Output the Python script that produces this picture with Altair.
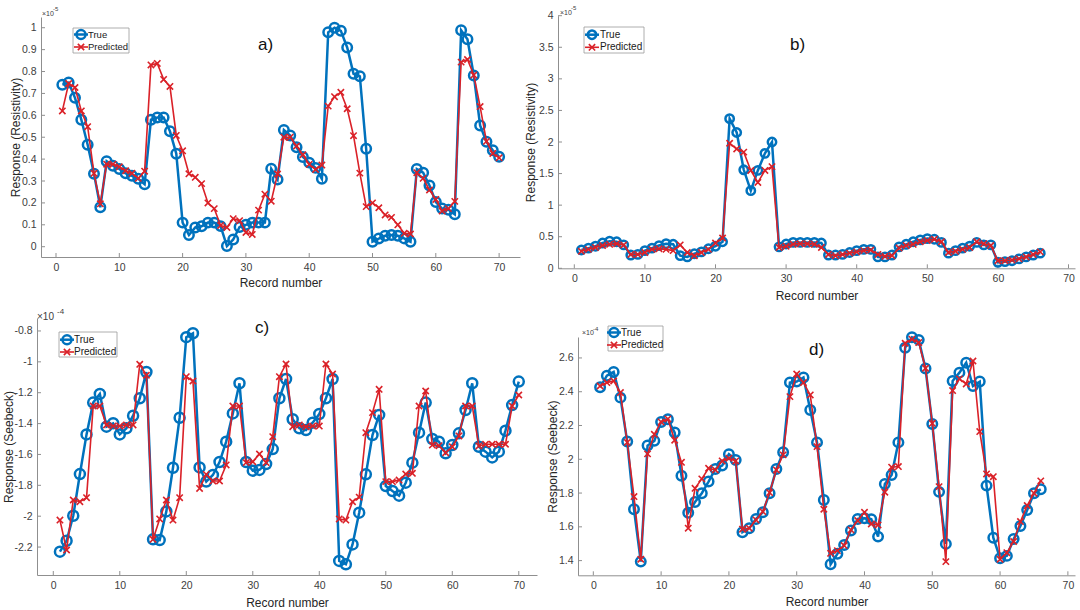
import altair as alt
import pandas as pd

# ---------------- data ----------------
rec_70 = list(range(1, 71))
rec_66 = list(range(1, 67))

true_a = [0.74, 0.75, 0.68, 0.58, 0.466, 0.333, 0.18, 0.39, 0.37, 0.355,
          0.335, 0.324, 0.31, 0.285, 0.58, 0.59, 0.59, 0.527, 0.425, 0.11,
          0.053, 0.088, 0.093, 0.11, 0.11, 0.094, 0.003, 0.033, 0.09, 0.1,
          0.11, 0.11, 0.11, 0.356, 0.307, 0.533, 0.508, 0.454, 0.41, 0.384,
          0.36, 0.31, 0.979, 1.0, 0.986, 0.91, 0.79, 0.778, 0.447, 0.023,
          0.037, 0.05, 0.053, 0.05, 0.038, 0.023, 0.355, 0.338, 0.28, 0.204,
          0.174, 0.169, 0.148, 0.988, 0.947, 0.782, 0.554, 0.479, 0.44, 0.411]
pred_a = [0.62, 0.745, 0.727, 0.62, 0.548, 0.335, 0.196, 0.377, 0.377, 0.365,
          0.347, 0.335, 0.312, 0.345, 0.83, 0.837, 0.764, 0.732, 0.508, 0.438,
          0.333, 0.317, 0.288, 0.2, 0.174, 0.097, 0.088, 0.128, 0.119, 0.065,
          0.056, 0.167, 0.24, 0.208, 0.332, 0.5, 0.5, 0.46, 0.42, 0.376,
          0.353, 0.373, 0.642, 0.685, 0.705, 0.63, 0.507, 0.336, 0.183, 0.2,
          0.178, 0.145, 0.134, 0.1, 0.061, 0.058, 0.338, 0.312, 0.259, 0.216,
          0.163, 0.174, 0.207, 0.843, 0.855, 0.784, 0.64, 0.481, 0.426, 0.406]

true_b = [0.29, 0.32, 0.35, 0.4, 0.43, 0.42, 0.37, 0.21, 0.22, 0.28,
          0.32, 0.36, 0.39, 0.38, 0.2, 0.18, 0.23, 0.26, 0.31, 0.35,
          0.42, 2.37, 2.15, 1.56, 1.23, 1.55, 1.82, 2.0, 0.34, 0.385,
          0.41, 0.41, 0.41, 0.41, 0.4, 0.21, 0.21, 0.22, 0.25, 0.28,
          0.3, 0.3, 0.18, 0.18, 0.21, 0.34, 0.38, 0.42, 0.45, 0.47,
          0.46, 0.41, 0.24, 0.28, 0.32, 0.35, 0.41, 0.37, 0.37, 0.095,
          0.105, 0.12, 0.15, 0.18, 0.21, 0.24]
pred_b = [0.27, 0.3, 0.33, 0.36, 0.38, 0.39, 0.37, 0.22, 0.22, 0.25,
          0.3, 0.31, 0.3, 0.28, 0.37, 0.25, 0.2, 0.25, 0.3, 0.4,
          0.48, 1.98, 1.89, 1.84, 1.55, 1.36, 1.55, 1.61, 0.33, 0.35,
          0.38, 0.39, 0.39, 0.38, 0.33, 0.22, 0.2, 0.22, 0.24, 0.26,
          0.28, 0.29, 0.22, 0.19, 0.2, 0.32, 0.36, 0.38, 0.42, 0.44,
          0.46, 0.42, 0.25, 0.27, 0.3, 0.33, 0.42, 0.39, 0.36, 0.12,
          0.12, 0.13, 0.15, 0.18, 0.22, 0.26]

true_c = [-2.23, -2.159, -1.997, -1.727, -1.47, -1.264, -1.208, -1.42, -1.398, -1.47,
          -1.43, -1.349, -1.236, -1.066, -2.15, -2.155, -1.969, -1.686, -1.362, -0.84,
          -0.815, -1.684, -1.776, -1.733, -1.649, -1.517, -1.334, -1.139, -1.649, -1.705,
          -1.70, -1.662, -1.565, -1.236, -1.111, -1.372, -1.43, -1.442, -1.394, -1.338,
          -1.236, -1.111, -2.29, -2.312, -2.183, -1.977, -1.729, -1.474, -1.344, -1.805,
          -1.837, -1.867, -1.783, -1.653, -1.459, -1.264, -1.5, -1.517, -1.593, -1.539,
          -1.463, -1.312, -1.139, -1.55, -1.582, -1.619, -1.582, -1.446, -1.28, -1.128]
pred_c = [-2.025, -2.219, -1.895, -1.906, -1.88, -1.286, -1.286, -1.409, -1.416, -1.416,
          -1.409, -1.409, -1.016, -1.087, -2.15, -2.018, -1.895, -2.025, -1.88, -1.096,
          -1.124, -1.82, -1.729, -1.772, -1.772, -1.668, -1.286, -1.286, -1.653, -1.647,
          -1.597, -1.653, -1.485, -1.096, -1.014, -1.42, -1.409, -1.42, -1.416, -1.416,
          -1.014, -1.079, -2.018, -2.025, -1.906, -1.877, -1.459, -1.329, -1.178, -1.776,
          -1.776, -1.766, -1.727, -1.722, -1.286, -1.189, -1.539, -1.543, -1.589, -1.55,
          -1.48, -1.286, -1.286, -1.545, -1.534, -1.534, -1.534, -1.534, -1.286, -1.215]

true_d = [2.426, 2.495, 2.517, 2.365, 2.105, 1.704, 1.394, 2.081, 2.109, 2.221,
          2.237, 2.158, 1.903, 1.684, 1.747, 1.799, 1.868, 1.943, 1.963, 2.03,
          1.996, 1.568, 1.592, 1.647, 1.686, 1.799, 1.943, 2.041, 2.454, 2.46,
          2.484, 2.292, 2.1, 1.759, 1.378, 1.44, 1.493, 1.578, 1.647, 1.651,
          1.645, 1.542, 1.854, 1.907, 2.1, 2.661, 2.722, 2.707, 2.537, 2.209,
          1.807, 1.499, 2.464, 2.513, 2.572, 2.434, 2.46, 1.844, 1.536, 1.414,
          1.428, 1.528, 1.605, 1.7, 1.799, 1.822]
pred_d = [2.434, 2.454, 2.464, 2.395, 2.1, 1.779, 1.408, 2.032, 2.148, 2.221,
          2.239, 2.113, 1.982, 1.592, 1.828, 1.884, 1.947, 1.937, 1.99, 2.006,
          1.99, 1.586, 1.592, 1.641, 1.69, 1.803, 1.937, 2.026, 2.371, 2.505,
          2.454, 2.381, 2.075, 1.704, 1.443, 1.459, 1.489, 1.582, 1.637, 1.686,
          1.617, 1.611, 1.805, 1.953, 1.957, 2.687, 2.711, 2.691, 2.539, 2.213,
          1.838, 1.394, 2.407, 2.476, 2.446, 2.582, 2.164, 1.913, 1.897, 1.408,
          1.447, 1.513, 1.631, 1.726, 1.799, 1.872]

x_ticks = [0, 10, 20, 30, 40, 50, 60, 70]
y_ticks_a = [0, 0.1, 0.2, 0.3, 0.4, 0.5, 0.6, 0.7, 0.8, 0.9, 1]
y_ticks_b = [0, 0.5, 1, 1.5, 2, 2.5, 3, 3.5, 4]
y_ticks_c = [-0.8, -1, -1.2, -1.4, -1.6, -1.8, -2, -2.2]
y_ticks_d = [1.4, 1.6, 1.8, 2, 2.2, 2.4, 2.6]

# ---------------- style ----------------
W, H = 1080, 610
BLUE = "#0072BD"
RED = "#DA2128"
AXC = "#8f8f8f"
LBL = "#404040"
FONT = "Liberation Sans"
XSHAPE = "M-1,-1L1,1M-1,1L1,-1"
ONE = pd.DataFrame({"d": [0]})


def panel(rec, tv, pv, xr, xd, yr, yd, yticks, ytitle, ytitle_cx, xtitle_dy, csize):
    df = pd.DataFrame({
        "x": rec + rec,
        "value": tv + pv,
        "series": ["True"] * len(tv) + ["Predicted"] * len(pv),
    })
    xs = alt.Scale(domain=xd, range=xr, nice=False, zero=False)
    ys = alt.Scale(domain=yd, range=yr, nice=False, zero=False)
    xaxis = alt.Axis(orient="bottom", offset=yr[0] - H, values=x_ticks, format="d",
                     ticks=False, grid=False, domainColor=AXC, domainWidth=1,
                     labelFont=FONT, labelFontSize=10.5, labelColor=LBL, labelPadding=5,
                     title="Record number", titleFont=FONT, titleFontSize=12,
                     titleFontWeight="normal", titleColor="#262626",
                     titleY=xtitle_dy, titleBaseline="middle")
    yaxis = alt.Axis(orient="left", offset=-xr[0], values=yticks, format="~g",
                     labelExpr="replace(datum.label, '\u2212', '-')",
                     ticks=False, grid=False, domainColor=AXC, domainWidth=1,
                     labelFont=FONT, labelFontSize=10.5, labelColor=LBL, labelPadding=5,
                     title=ytitle, titleFont=FONT, titleFontSize=12,
                     titleFontWeight="normal", titleColor="#262626",
                     titleX=ytitle_cx - xr[0], titleBaseline="middle")
    base = alt.Chart(df)
    X = alt.X("x:Q", scale=xs, axis=xaxis)
    Y = alt.Y("value:Q", scale=ys, axis=yaxis)
    t_line = base.transform_filter(alt.datum.series == "True").mark_line(
        color=BLUE, strokeWidth=2.5).encode(x=X, y=Y)
    t_pts = base.transform_filter(alt.datum.series == "True").mark_point(
        shape="circle", filled=False, color=BLUE, strokeWidth=2.5, size=csize, opacity=1
    ).encode(x=alt.X("x:Q", scale=xs), y=alt.Y("value:Q", scale=ys))
    p_line = base.transform_filter(alt.datum.series == "Predicted").mark_line(
        color=RED, strokeWidth=1.6).encode(x=alt.X("x:Q", scale=xs), y=alt.Y("value:Q", scale=ys))
    p_pts = base.transform_filter(alt.datum.series == "Predicted").mark_point(
        shape=XSHAPE, filled=False, color=RED, strokeWidth=1.6, size=40, opacity=1
    ).encode(x=alt.X("x:Q", scale=xs), y=alt.Y("value:Q", scale=ys))
    xt = alt.Chart(pd.DataFrame({"x": x_ticks})).mark_rule(color=AXC, strokeWidth=1).encode(
        x=alt.X("x:Q", scale=xs), y=alt.value(yr[0]), y2=alt.value(yr[0] - 4))
    yt = alt.Chart(pd.DataFrame({"value": yticks})).mark_rule(color=AXC, strokeWidth=1).encode(
        y=alt.Y("value:Q", scale=ys), x=alt.value(xr[0]), x2=alt.value(xr[0] + 4))
    return alt.layer(t_line, xt, yt, t_pts, p_line, p_pts)


def text(s, x, y, size, align="left", color="#262626", baseline="middle"):
    return alt.Chart(ONE).mark_text(text=s, align=align, baseline=baseline, fontSize=size,
                                    font=FONT, color=color).encode(
        x=alt.value(x), y=alt.value(y))


def legend(x0, x1, y0, y1, ey, mx, tx, fs, csize):
    box = alt.Chart(ONE).mark_rect(fill="white", stroke="#9a9a9a", strokeWidth=0.8).encode(
        x=alt.value(x0), x2=alt.value(x1), y=alt.value(y0), y2=alt.value(y1))
    bl = alt.Chart(ONE).mark_rule(color=BLUE, strokeWidth=2.5).encode(
        x=alt.value(mx - 7), x2=alt.value(mx + 7), y=alt.value(ey[0]))
    bc = alt.Chart(ONE).mark_point(shape="circle", filled=False, color=BLUE, strokeWidth=2.5,
                                   size=csize, opacity=1).encode(x=alt.value(mx), y=alt.value(ey[0]))
    rl = alt.Chart(ONE).mark_rule(color=RED, strokeWidth=1.6).encode(
        x=alt.value(mx - 7), x2=alt.value(mx + 7), y=alt.value(ey[1]))
    rc = alt.Chart(ONE).mark_point(shape=XSHAPE, filled=False, color=RED, strokeWidth=1.6,
                                   size=40, opacity=1).encode(x=alt.value(mx), y=alt.value(ey[1]))
    return [box, bl, bc, rl, rc,
            text("True", tx, ey[0], fs, color="#1a1a1a"),
            text("Predicted", tx, ey[1], fs, color="#1a1a1a")]


pa = panel(rec_70, true_a, pred_a, [41, 520], [-2.37, 73.3], [257, 17], [-0.047, 1.049],
           y_ticks_a, "Response (Resistivity)", 15, 25, 90)
pb = panel(rec_66, true_b, pred_b, [558, 1075], [-2.31, 70.92], [268.3, 15.7], [0, 4],
           y_ticks_b, "Response (Resistivity)", 530, 27, 70)
pc = panel(rec_70, true_c, pred_c, [37, 537], [-2.45, 72.74], [575, 318], [-2.381, -0.716],
           y_ticks_c, "Response (Seebeck)", 8, 27, 100)
pd_ = panel(rec_66, true_d, pred_d, [578, 1075], [-2.26, 71.05], [575.3, 337], [1.313, 2.724],
            y_ticks_d, "Response (Seebeck)", 552, 26, 90)

deco = []
deco += legend(73, 129, 28, 53, [34.5, 47], 81, 88, 9.5, 80)
deco += legend(584, 644, 27, 53, [34.7, 47.3], 592, 600, 10, 70)
deco += legend(59, 117, 332, 357, [339.7, 352], 67, 74, 10, 80)
deco += legend(608, 663, 326, 351, [332.5, 345], 614, 621, 10, 80)

deco += [
    text("a)", 258, 45, 17, color="#111111"),
    text("b)", 790, 45, 17, color="#111111"),
    text("c)", 255, 328, 17, color="#111111"),
    text("d)", 809, 350, 17, color="#111111"),
    text("×10", 42, 14, 7, color=LBL),
    text("-5", 53, 9, 6, color=LBL),
    text("×10", 560, 13, 7, color=LBL),
    text("-5", 571, 8, 6, color=LBL),
    text("×10", 37, 317, 10, color=LBL),
    text("-4", 57, 312, 8, color=LBL),
    text("×10", 582, 333, 7, color=LBL),
    text("-4", 593, 329, 6, color=LBL),
]

chart = alt.layer(pa, pb, pc, pd_, *deco).resolve_scale(
    x="independent", y="independent"
).properties(
    width=W, height=H, padding=0, autosize=alt.AutoSizeParams(type="none"),
    background="white"
).configure_view(stroke=None)

chart.save("out.html", embed_options={"renderer": "svg", "actions": False})
